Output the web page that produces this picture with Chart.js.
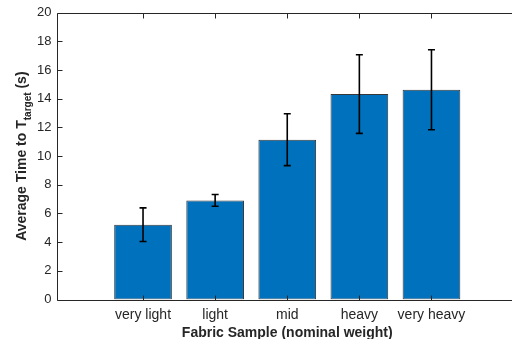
<!DOCTYPE html>
<html>
<head>
<meta charset="utf-8">
<script src="https://cdn.jsdelivr.net/npm/chart.js@4.4.1/dist/chart.umd.min.js"></script>
<style>
  html, body { margin: 0 !important; padding: 0; background: #fff; overflow: hidden !important; scrollbar-width: none; width: 100%; height: 100%; }
  ::-webkit-scrollbar { display: none; width: 0; height: 0; }
  #box { position: fixed; left: 0; top: 0; width: 512px; height: 339px; overflow: hidden; }
  #c { display: block; position: absolute; left: 0; top: 0; }
</style>
</head>
<body>
<div id="box"><canvas id="c" width="522" height="339"></canvas></div>
<script>
// ---- data ----
const categories = ['very light', 'light', 'mid', 'heavy', 'very heavy'];
const avgTime = [5.22, 6.91, 11.15, 14.33, 14.63];
const errTime = [1.17, 0.41, 1.81, 2.74, 2.79];
const yTicks = [0, 2, 4, 6, 8, 10, 12, 14, 16, 18, 20];
const xTitle = 'Fabric Sample (nominal weight)';
const yTitleMain = 'Average Time to T';
const yTitleSub = 'target';
const yTitleTail = ' (s)';

const AX = '#262626';
const FONT = '"Liberation Sans", Arial, Helvetica, sans-serif';

const overlay = {
  id: 'overlay',
  afterDatasetsDraw(chart) {
    const ctx = chart.ctx;
    const xs = chart.scales.x, ys = chart.scales.y;
    const a = chart.chartArea;
    ctx.save();
    // error bars
    ctx.strokeStyle = '#000';
    ctx.lineWidth = 1.6;
    avgTime.forEach((v, i) => {
      const px = xs.getPixelForValue(i + 1);
      const top = ys.getPixelForValue(v + errTime[i]);
      const bot = ys.getPixelForValue(v - errTime[i]);
      ctx.beginPath();
      ctx.moveTo(px, top); ctx.lineTo(px, bot);
      ctx.moveTo(px - 3.5, top); ctx.lineTo(px + 3.5, top);
      ctx.moveTo(px - 3.5, bot); ctx.lineTo(px + 3.5, bot);
      ctx.stroke();
    });
    // axes box (right side lies outside the visible area) and inward ticks
    ctx.strokeStyle = AX;
    ctx.lineWidth = 1;
    const L = Math.round(a.left) + 0.5, T = Math.round(a.top) + 0.5;
    const B = Math.round(a.bottom) + 0.5, R = Math.round(a.right) + 0.5;
    ctx.beginPath();
    ctx.moveTo(R, B); ctx.lineTo(L, B); ctx.lineTo(L, T); ctx.lineTo(R, T);
    const tl = 5;
    yTicks.forEach(t => {
      const py = Math.round(ys.getPixelForValue(t)) + 0.5;
      ctx.moveTo(L, py); ctx.lineTo(L + tl, py);
    });
    categories.forEach((c, i) => {
      const px = Math.round(xs.getPixelForValue(i + 1)) + 0.5;
      ctx.moveTo(px, B); ctx.lineTo(px, B - tl);
      ctx.moveTo(px, T); ctx.lineTo(px, T + tl);
    });
    ctx.stroke();
    // x title
    ctx.fillStyle = AX;
    ctx.font = 'bold 14px ' + FONT;
    ctx.textAlign = 'center';
    ctx.textBaseline = 'alphabetic';
    ctx.fillText(xTitle, (a.left + a.right) / 2, 337);
    // y title with subscript
    ctx.translate(26, (a.top + a.bottom) / 2);
    ctx.rotate(-Math.PI / 2);
    ctx.textAlign = 'left';
    ctx.font = 'bold 14px ' + FONT;
    const w1 = ctx.measureText(yTitleMain).width;
    const w3 = ctx.measureText(yTitleTail).width;
    ctx.font = 'bold 10px ' + FONT;
    const w2 = ctx.measureText(yTitleSub).width;
    let x0 = -(w1 + w2 + w3) / 2;
    ctx.font = 'bold 14px ' + FONT;
    ctx.fillText(yTitleMain, x0, 0);
    ctx.font = 'bold 10px ' + FONT;
    ctx.fillText(yTitleSub, x0 + w1, 5);
    ctx.font = 'bold 14px ' + FONT;
    ctx.fillText(yTitleTail, x0 + w1 + w2, 0);
    ctx.restore();
  }
};

new Chart(document.getElementById('c'), {
  type: 'bar',
  data: {
    datasets: [{
      data: avgTime.map((v, i) => ({ x: i + 1, y: v })),
      backgroundColor: '#0072BD',
      borderColor: 'rgba(20,20,20,0.85)',
      borderWidth: 1,
      borderSkipped: false,
      categoryPercentage: 1,
      barPercentage: 0.8
    }]
  },
  options: {
    responsive: false,
    animation: false,
    events: [],
    layout: { padding: { top: 12.5, right: 4, left: 0, bottom: 0 } },
    plugins: { legend: { display: false }, tooltip: { enabled: false } },
    scales: {
      x: {
        type: 'linear',
        offset: false,
        min: -0.2,
        max: 6.2,
        grid: { display: false, drawTicks: false, offset: false },
        border: { display: false },
        afterBuildTicks(s) { s.ticks = categories.map((c, i) => ({ value: i + 1 })); },
        afterFit(s) { s.height = 39.5; },
        ticks: {
          autoSkip: false,
          maxRotation: 0,
          padding: 7,
          color: AX,
          font: { family: FONT, size: 14 },
          callback: (v) => categories[v - 1] || ''
        }
      },
      y: {
        min: 0,
        max: 20,
        grid: { display: false, drawTicks: false },
        border: { display: false },
        afterBuildTicks(s) { s.ticks = yTicks.map(v => ({ value: v })); },
        afterFit(s) { s.width = 56.5; },
        ticks: {
          padding: 5,
          color: AX,
          font: { family: FONT, size: 13 }
        }
      }
    }
  },
  plugins: [overlay]
});
</script>
</body>
</html>
